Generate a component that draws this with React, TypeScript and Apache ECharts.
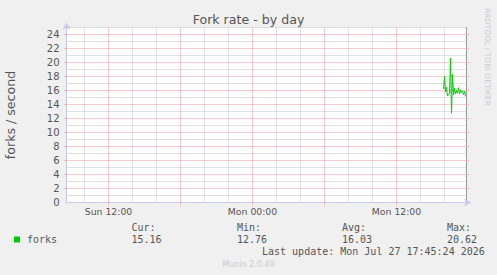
import React, { useEffect, useRef } from 'react';
import * as echarts from 'echarts';

// Sample times (Monday) and fork rates (forks / second)
const sampleTimes = [
  '15:55', '16:00', '16:05', '16:10', '16:15', '16:20', '16:25', '16:30',
  '16:35', '16:40', '16:45', '16:50', '16:55', '17:00', '17:05', '17:10',
  '17:15', '17:20', '17:25', '17:30', '17:35', '17:40', '17:45',
];
const forkValues = [
  16.2, 18.0, 15.8, 16.5, 15.2, 15.4, 15.6, 20.62,
  12.76, 18.3, 15.4, 16.3, 15.5, 16.0, 15.6, 16.4,
  15.5, 16.1, 15.7, 15.9, 15.4, 15.9, 15.16,
];

// Axis ranges (hours since Sun 00:00)
const xMin = 8.5;
const xMax = 41.79;
const yMax = 25;

const xTickHours = [12, 24, 36];
const xTickLabels = ['Sun 12:00', 'Mon 00:00', 'Mon 12:00'];
const minorGridHours = [10, 14, 16, 20, 22, 26, 28, 32, 34, 38, 40];
const majorGridHours = [12, 18, 24, 30, 36];
const yMajorValues = [2, 4, 6, 8, 10, 12, 14, 16, 18, 20, 22, 24];
const yMinorValues = [1, 3, 5, 7, 9, 11, 13, 15, 17, 19, 21, 23, 25];
const yLabelValues = [0, 2, 4, 6, 8, 10, 12, 14, 16, 18, 20, 22, 24];

const legendName = 'forks';
const statLabels = ['Cur:', 'Min:', 'Avg:', 'Max:'];
const statValues = ['15.16', '12.76', '16.03', '20.62'];
const lastUpdate = 'Last update: Mon Jul 27 17:45:24 2026';
const chartTitle = 'Fork rate - by day';
const yAxisTitle = 'forks / second';
const sideNote = 'RRDTOOL / TOBI OETIKER';
const footer = 'Munin 2.0.49';

const toHours = (t: string) => {
  const [h, m] = t.split(':').map(Number);
  return 24 + h + m / 60; // Monday
};

export default function App() {
  const ref = useRef<HTMLDivElement>(null);

  useEffect(() => {
    document.body.style.margin = '0';
    if (!ref.current) return;
    const chart = echarts.init(ref.current, null, { renderer: 'svg' });

    const points = sampleTimes.map((t, i) => [toHours(t), forkValues[i]]);
    const axisBlue = '#c8c8f2';
    const minorColor = '#c2c2c2';
    const majorColor = '#f09898';
    const mono = 'DejaVu Sans Mono';
    const textGray = '#555';
    const statX = [131.5, 237, 342, 447];

    const graphic: any[] = [
      {
        type: 'text',
        x: 487.5,
        y: 57,
        rotation: -Math.PI / 2,
        silent: true,
        style: {
          text: sideNote,
          fill: '#cccccc',
          font: '7.6px "DejaVu Sans"',
          textAlign: 'center',
          textVerticalAlign: 'middle',
        },
      },
      {
        type: 'text',
        x: 10,
        y: 115,
        rotation: Math.PI / 2,
        silent: true,
        style: {
          text: yAxisTitle,
          fill: textGray,
          font: '12.6px "DejaVu Sans"',
          textAlign: 'center',
          textVerticalAlign: 'middle',
        },
      },
      {
        type: 'rect',
        shape: { x: 14, y: 236.5, width: 6, height: 6 },
        style: { fill: '#00cc00' },
        silent: true,
      },
      {
        type: 'text',
        x: 27,
        y: 239.5,
        style: { text: legendName, fill: textGray, font: `10px "${mono}"`, textVerticalAlign: 'middle' },
        silent: true,
      },
      {
        type: 'text',
        x: 262,
        y: 251.7,
        style: { text: lastUpdate, fill: textGray, font: `10px "${mono}"`, textVerticalAlign: 'middle' },
        silent: true,
      },
      {
        type: 'text',
        x: 248.5,
        y: 264.3,
        style: {
          text: footer,
          fill: '#cccccc',
          font: '8px "DejaVu Sans"',
          textAlign: 'center',
          textVerticalAlign: 'middle',
        },
        silent: true,
      },
    ];
    statLabels.forEach((lab, i) => {
      graphic.push({
        type: 'text',
        x: statX[i],
        y: 227.7,
        style: { text: lab, fill: textGray, font: `10px "${mono}"`, textVerticalAlign: 'middle' },
        silent: true,
      });
      graphic.push({
        type: 'text',
        x: statX[i],
        y: 239.5,
        style: { text: statValues[i], fill: textGray, font: `10px "${mono}"`, textVerticalAlign: 'middle' },
        silent: true,
      });
    });

    // Grid lines as custom series: [value, orientation (0 = vertical, 1 = horizontal)]
    const makeGridSeries = (name: string, color: string, xs: number[], ys: number[], z: number) => ({
      name,
      type: 'custom',
      silent: true,
      z,
      clip: false,
      encode: { x: -1, y: -1 },
      data: [...xs.map((h) => [h, 0]), ...ys.map((v) => [v, 1])],
      renderItem: (_params: any, api: any) => {
        const val = api.value(0);
        const horiz = api.value(1) === 1;
        const a = horiz ? api.coord([xMin, val]) : api.coord([val, 0]);
        const b = horiz ? api.coord([xMax, val]) : api.coord([val, yMax]);
        return {
          type: 'line',
          silent: true,
          shape: { x1: a[0], y1: a[1], x2: b[0], y2: b[1] },
          style: { stroke: color, lineWidth: 1, lineDash: [1, 1], fill: null },
        };
      },
    });

    const option: any = {
      animation: false,
      backgroundColor: '#f0f0f0',
      textStyle: { fontFamily: 'DejaVu Sans' },
      title: {
        text: chartTitle,
        left: 'center',
        top: 13,
        padding: 0,
        textStyle: { fontSize: 12.6, fontWeight: 'normal', color: textGray, fontFamily: 'DejaVu Sans' },
      },
      grid: {
        left: 66.5,
        right: 31,
        top: 27.5,
        bottom: 72.5,
        show: true,
        backgroundColor: '#ffffff',
        borderWidth: 0,
      },
      xAxis: {
        type: 'value',
        min: xMin,
        max: xMax,
        axisLine: {
          show: true,
          onZero: false,
          lineStyle: { color: axisBlue, width: 1 },
          symbol: ['none', 'arrow'],
          symbolSize: [6, 7],
          symbolOffset: [0, 5],
        },
        axisTick: {
          show: true,
          customValues: majorGridHours,
          length: 3,
          lineStyle: { color: majorColor, width: 1, type: [1, 1] },
        },
        splitLine: { show: false },
        axisLabel: {
          customValues: xTickHours,
          formatter: (v: number) => {
            const i = xTickHours.findIndex((h) => Math.abs(h - v) < 1e-6);
            return i >= 0 ? xTickLabels[i] : '';
          },
          color: textGray,
          fontSize: 9.3,
          margin: 4,
          fontFamily: 'DejaVu Sans',
        },
      },
      yAxis: [
        {
          type: 'value',
          min: 0,
          max: yMax,
          interval: 1,
          axisLine: {
            show: true,
            lineStyle: { color: axisBlue, width: 1 },
            symbol: ['none', 'arrow'],
            symbolSize: [6, 7],
            symbolOffset: [0, 5],
          },
          axisTick: {
            show: true,
            customValues: yMajorValues,
            length: 2,
            lineStyle: { color: majorColor, width: 1 },
          },
          axisLabel: {
            customValues: yLabelValues,
            formatter: (v: number) => String(v),
            color: textGray,
            fontSize: 10,
            margin: 7,
            fontFamily: 'DejaVu Sans',
          },
          splitLine: { show: false },
        },
        {
          type: 'value',
          min: 0,
          max: yMax,
          position: 'right',
          axisLine: { show: true, lineStyle: { color: '#9a9a9a', width: 1 } },
          axisTick: {
            show: true,
            customValues: yMajorValues,
            length: 3,
            lineStyle: { color: majorColor, width: 1, type: [1, 1] },
          },
          axisLabel: { show: false },
          splitLine: { show: false },
        },
      ],
      series: [
        makeGridSeries('minor grid', minorColor, minorGridHours, yMinorValues, 1),
        makeGridSeries('major grid', majorColor, majorGridHours, yMajorValues, 2),
        {
          name: legendName,
          type: 'line',
          data: points,
          symbol: 'none',
          showSymbol: false,
          z: 3,
          lineStyle: { color: '#00cc00', width: 1 },
          itemStyle: { color: '#00cc00' },
        },
      ],
      graphic,
    };

    chart.setOption(option);
    return () => chart.dispose();
  }, []);

  return (
    <div
      ref={ref}
      style={{ position: 'fixed', left: 0, top: 0, width: 497, height: 275, background: '#f0f0f0' }}
    />
  );
}
